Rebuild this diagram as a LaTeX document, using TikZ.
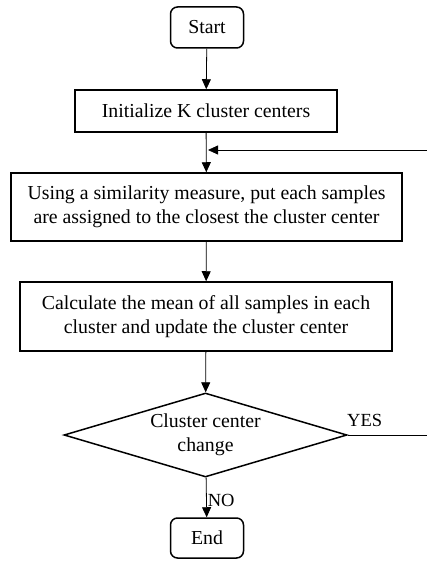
\documentclass[tikz,border=0pt]{standalone}
\usepackage{fontspec}
\setmainfont{Liberation Serif}
\usetikzlibrary{shapes.geometric,arrows.meta}
\begin{document}
\begin{tikzpicture}[x=1pt,y=-1pt,
  every node/.style={font=\fontsize{19.8}{24.5}\selectfont, inner sep=0pt},
  boxstyle/.style={draw, line width=1.5pt, align=center},
  termstyle/.style={draw, line width=1.5pt, rounded corners=7pt, minimum width=73pt, minimum height=41pt},
  decstyle/.style={draw, line width=1.5pt, diamond, shape aspect=3.37, align=center, minimum width=283pt, minimum height=84pt, inner sep=0pt},
  flow/.style={line width=0.8pt, -{Triangle[length=10pt,width=9pt]}},
  plainline/.style={line width=0.8pt},
  lbl/.style={font=\fontsize{18.5}{22}\selectfont}
]
\useasboundingbox (0,0) rectangle (426,561);
\node[termstyle] (start) at (207,27.5) {Start};
\node[boxstyle, minimum width=262pt, minimum height=42pt] (init) at (206,111) {Initialize K cluster centers};
\node[boxstyle, minimum width=391pt, minimum height=68pt] (assign) at (206.5,207) {Using a similarity measure, put each samples\\are assigned to the closest the cluster center};
\node[boxstyle, minimum width=372pt, minimum height=69pt] (calc) at (206,316.5) {Calculate the mean of all samples in each\\cluster and update the cluster center};
\node[decstyle] (dec) at (205.5,435) {Cluster center\\change};
\node[termstyle, minimum height=40pt] (end) at (207,538) {End};
\coordinate (loopin) at (208,150);
\coordinate (loopr) at (470,150);
\coordinate (loopd) at (470,435);
\draw[flow] (start) -- (init);
\draw[flow] (init) -- (assign);
\draw[flow] (assign) -- (calc);
\draw[flow] (calc) -- (dec);
\draw[flow] (dec) -- node[lbl, anchor=west, xshift=1pt, yshift=-3pt] {NO} (end);
\draw[plainline] (dec.east) -- (loopd) -- (loopr);
\draw[flow] (loopr) -- (loopin);
\node[lbl, anchor=south west] (yes) at (347,427) {YES};
\end{tikzpicture}
\end{document}
